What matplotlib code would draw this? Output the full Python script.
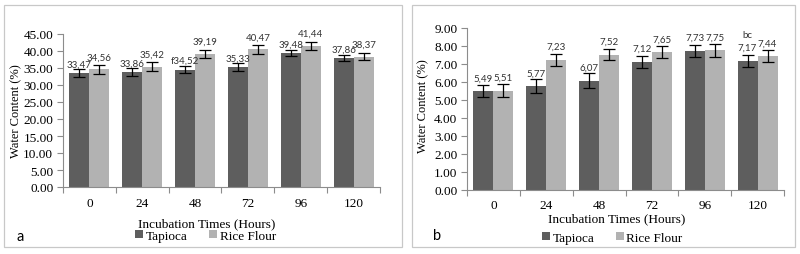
import numpy as np
import matplotlib
matplotlib.use('Agg')
import matplotlib.pyplot as plt
from matplotlib.patches import Rectangle

hours = ['0', '24', '48', '72', '96', '120']

# panel a
tapioca_a = [33.47, 33.86, 34.52, 35.33, 39.48, 37.86]
rice_a = [34.56, 35.42, 39.19, 40.47, 41.44, 38.37]
tapioca_a_err = [1.15, 1.2, 1.0, 1.25, 0.9, 0.9]
rice_a_err = [1.2, 1.25, 1.2, 1.25, 1.15, 1.1]
tapioca_a_labels = ['33,47', '33,86', 'f34,52', '35,33', '39,48', '37,86']
rice_a_labels = ['34,56', '35,42', '39,19', '40,47', '41,44', '38,37']

# panel b
tapioca_b = [5.49, 5.77, 6.07, 7.12, 7.73, 7.17]
rice_b = [5.51, 7.23, 7.52, 7.65, 7.75, 7.44]
tapioca_b_err = [0.35, 0.37, 0.4, 0.34, 0.35, 0.34]
rice_b_err = [0.35, 0.34, 0.33, 0.33, 0.35, 0.33]
tapioca_b_labels = ['5,49', '5,77', '6,07', '7,12', '7,73', '7,17']
rice_b_labels = ['5,51', '7,23', '7,52', '7,65', '7,75', '7,44']

dark = '#5e5e5e'
light = '#b2b2b2'
axis_gray = '#8c8c8c'
serif = 'Liberation Serif'
sans = 'Lato'
lab_size = 7

fig = plt.figure(figsize=(8, 2.55), dpi=100)

# panel borders
fig.add_artist(Rectangle((4 / 800, 1 - 248 / 255), 398 / 800, 242 / 255,
                         transform=fig.transFigure, fill=False, ec='#c8c8c8', lw=0.9))
fig.add_artist(Rectangle((412 / 800, 1 - 248 / 255), 383 / 800, 242 / 255,
                         transform=fig.transFigure, fill=False, ec='#c8c8c8', lw=0.9))

ax_a = fig.add_axes([63 / 800, 1 - 188 / 255, 317 / 800, 153 / 255])
ax_b = fig.add_axes([467 / 800, 1 - 190.5 / 255, 317 / 800, 161.5 / 255])


def draw_panel(ax, tap, rice, tap_err, rice_err, tap_lab, rice_lab, ymax, step,
               off_t, off_r, xl_pos, lg_pos, yl_pos):
    x = np.arange(len(hours))
    w = 0.38
    ax.bar(x - w / 2, tap, w, color=dark, label='Tapioca', zorder=2)
    ax.bar(x + w / 2, rice, w, color=light, label='Rice Flour', zorder=2)
    ax.errorbar(x - w / 2, tap, yerr=tap_err, fmt='none', ecolor='black',
                elinewidth=0.9, capsize=4.5, capthick=0.9, zorder=3)
    ax.errorbar(x + w / 2, rice, yerr=rice_err, fmt='none', ecolor='black',
                elinewidth=0.9, capsize=4.5, capthick=0.9, zorder=3)
    for i in range(len(hours)):
        ax.annotate(tap_lab[i], (x[i] - w / 2, tap[i]), xytext=(0, off_t),
                    textcoords='offset points', ha='center', va='center',
                    fontsize=lab_size, family=sans, color='#333333')
        ax.annotate(rice_lab[i], (x[i] + w / 2, rice[i]), xytext=(0, off_r),
                    textcoords='offset points', ha='center', va='center',
                    fontsize=lab_size, family=sans, color='#333333')

    ax.set_xlim(-0.5, len(hours) - 0.5)
    ax.set_ylim(0, ymax)
    ax.set_yticks(np.arange(0, ymax + step / 2, step))
    ax.set_yticklabels(['%.2f' % v for v in np.arange(0, ymax + step / 2, step)])
    ax.set_xticks(np.arange(-0.5, len(hours), 1.0))
    ax.set_xticklabels([])
    ax.set_xticks(x, minor=True)
    ax.set_xticklabels(hours, minor=True)
    ax.tick_params(axis='x', which='major', length=4, color=axis_gray, width=0.8)
    ax.tick_params(axis='x', which='minor', length=0, pad=7, labelsize=9.5)
    ax.tick_params(axis='y', length=4, color=axis_gray, width=0.8, labelsize=9.5, pad=3)
    for lab in ax.get_xticklabels(minor=True) + ax.get_yticklabels():
        lab.set_family(serif)
    for s in ['top', 'right']:
        ax.spines[s].set_visible(False)
    for s in ['left', 'bottom']:
        ax.spines[s].set_color(axis_gray)
        ax.spines[s].set_linewidth(0.8)

    ax.set_xlabel('Incubation Times (Hours)', family=serif, fontsize=9.5)
    ax.xaxis.set_label_coords(*xl_pos)
    ax.xaxis.label.set_va('center')
    ax.set_ylabel('Water Content (%)', family=serif, fontsize=9)
    ax.yaxis.set_label_coords(*yl_pos)
    ax.yaxis.label.set_va('center')
    leg = ax.legend(loc='center', bbox_to_anchor=lg_pos, ncol=2, frameon=False,
                    fontsize=9.5, handlelength=0.6, handleheight=0.6,
                    handletextpad=0.2, columnspacing=1.6,
                    borderpad=0, borderaxespad=0)
    for t in leg.get_texts():
        t.set_family(serif)


draw_panel(ax_a, tapioca_a, rice_a, tapioca_a_err, rice_a_err,
           tapioca_a_labels, rice_a_labels, 45, 5, 6.5, 9,
           (0.454, -0.235), (0.45, -0.32), (-0.148, 0.5))
draw_panel(ax_b, tapioca_b, rice_b, tapioca_b_err, rice_b_err,
           tapioca_b_labels, rice_b_labels, 9, 1, 9.5, 9.5,
           (0.473, -0.176), (0.459, -0.30), (-0.139, 0.52))

# letter above the last tapioca label in panel b
ax_b.annotate('bc', (5 - 0.19, tapioca_b[5]), xytext=(0, 19),
              textcoords='offset points', ha='center', va='center',
              fontsize=lab_size, family=sans, color='#333333')

fig.text(20 / 800, 1 - 237 / 255, 'a', family=sans, fontsize=10.5, ha='center', va='center')
fig.text(437 / 800, 1 - 236 / 255, 'b', family=sans, fontsize=10.5, ha='center', va='center')

fig.savefig('out.png', dpi=100)
